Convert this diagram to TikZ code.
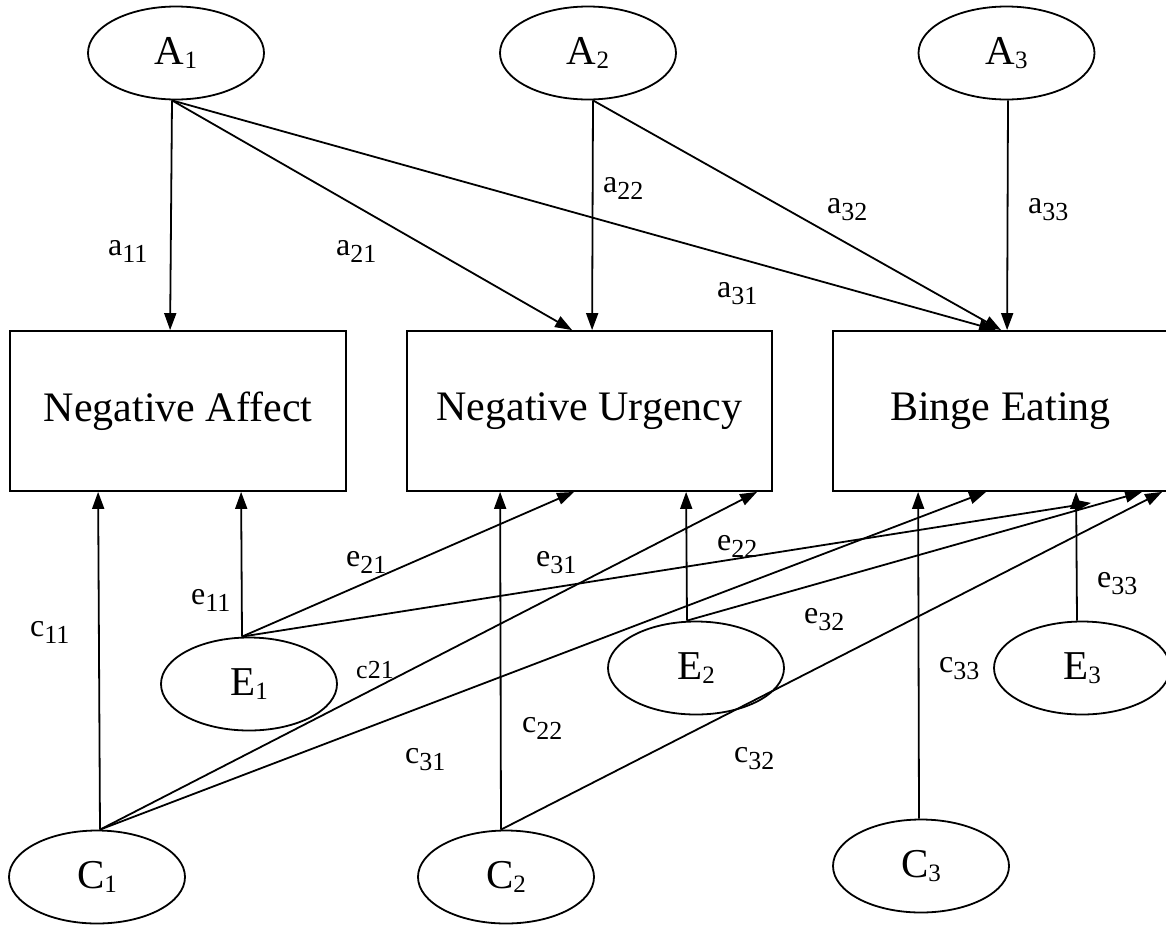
\documentclass[tikz,border=0pt]{standalone}
\usepackage{fontspec}
\setmainfont{Liberation Serif}
\usetikzlibrary{arrows.meta,shapes.geometric}
\newcommand\lbsub[2]{#1\raisebox{-7pt}{\fontsize{26}{26}\selectfont #2}}
\newcommand\vrsub[2]{#1\raisebox{-4pt}{\fontsize{25}{25}\selectfont #2}}
\begin{document}
\begin{tikzpicture}[x=1pt,y=-1pt,
  latent/.style={draw,ellipse,line width=1.8pt,minimum width=176pt,minimum height=93pt,inner sep=0pt,font=\fontsize{41}{44}\selectfont},
  obsbox/.style={draw,rectangle,line width=1.8pt,minimum height=160pt,inner sep=0pt,font=\fontsize{42}{48}\selectfont},
  path/.style={line width=1.8pt,-{Triangle[length=17pt,width=12pt]}},
  lab/.style={anchor=base west,inner sep=0pt,font=\fontsize{32}{36}\selectfont},
  labsm/.style={anchor=base west,inner sep=0pt,font=\fontsize{26}{30}\selectfont}]
\useasboundingbox (0,0) rectangle (1166,924);
% latent variables
\node[latent] (A1) at (176,53) {\vrsub{A}{1}};
\node[latent] (A2) at (588,53) {\vrsub{A}{2}};
\node[latent] (A3) at (1006.5,53) {\vrsub{A}{3}};
\node[latent] (E1) at (249,684) {\vrsub{E}{1}};
\node[latent] (E2) at (696,668) {\vrsub{E}{2}};
\node[latent] (E3) at (1082,668) {\vrsub{E}{3}};
\node[latent] (C1) at (97,877) {\vrsub{C}{1}};
\node[latent] (C2) at (506,877) {\vrsub{C}{2}};
\node[latent] (C3) at (921,866) {\vrsub{C}{3}};
% observed
\node[obsbox,minimum width=336pt] (NA) at (178,411) {Negative Affect};
\node[obsbox,minimum width=365pt] (NU) at (589.5,411) {Negative Urgency};
\node[obsbox,minimum width=335pt] (BE) at (1000.5,411) {Binge Eating};
% A paths
\draw[path] ([xshift=-4pt]A1.south) -- ([xshift=161pt]NA.north west);
\draw[path] ([xshift=-4pt]A1.south) -- ([xshift=166pt]NU.north west);
\draw[path] ([xshift=-4pt]A1.south) -- ([xshift=164pt]BE.north west);
\draw[path] ([xshift=5pt]A2.south) -- ([xshift=186pt]NU.north west);
\draw[path] ([xshift=5pt]A2.south) -- ([xshift=169pt]BE.north west);
\draw[path] ([xshift=1.5pt]A3.south) -- ([xshift=175pt]BE.north west);
% C and E paths
\draw[path] ([xshift=3pt]C1.north) -- ([xshift=89pt]NA.south west);
\draw[path] ([xshift=3pt]C1.north) -- ([xshift=351pt]NU.south west);
\draw[path] ([xshift=3pt]C1.north) -- ([xshift=154pt]BE.south west);
\draw[path] ([xshift=-7pt]E1.north) -- ([xshift=232pt]NA.south west);
\draw[path] ([xshift=-7pt]E1.north) -- ([xshift=168pt]NU.south west);
\draw[path] ([xshift=-7pt]E1.north) -- ([xshift=259pt,yshift=-11pt]BE.south west);
\draw[path] ([xshift=-5pt]C2.north) -- ([xshift=94pt]NU.south west);
\draw[path] ([xshift=-5pt]C2.north) -- ([xshift=330pt]BE.south west);
\draw[path] ([xshift=-9pt]E2.north) -- ([xshift=280pt]NU.south west);
\draw[path] ([xshift=-9pt]E2.north) -- ([xshift=310pt]BE.south west);
\draw[path] ([xshift=-2pt]C3.north) -- ([xshift=86pt]BE.south west);
\draw[path] ([xshift=-5pt]E3.north) -- ([xshift=244pt]BE.south west);
% labels
\node[lab] (la11) at (108,255) {\lbsub{a}{11}};
\node[lab] (la21) at (336,255) {\lbsub{a}{21}};
\node[lab] (la22) at (603,192) {\lbsub{a}{22}};
\node[lab] (la32) at (827,213) {\lbsub{a}{32}};
\node[lab] (la33) at (1028,213) {\lbsub{a}{33}};
\node[lab] (la31) at (717,297) {\lbsub{a}{31}};
\node[lab] (le21) at (346,566) {\lbsub{e}{21}};
\node[lab] (le31) at (536,566) {\lbsub{e}{31}};
\node[lab] (le11) at (191,604) {\lbsub{e}{11}};
\node[lab] (lc11) at (30,636) {\lbsub{c}{11}};
\node[labsm] (lc21) at (356,678) {c21};
\node[lab] (lc22) at (522,732) {\lbsub{c}{22}};
\node[lab] (lc31) at (405,763) {\lbsub{c}{31}};
\node[lab] (le22) at (717,550) {\lbsub{e}{22}};
\node[lab] (le32) at (804,623) {\lbsub{e}{32}};
\node[lab] (le33) at (1097,587) {\lbsub{e}{33}};
\node[lab] (lc33) at (939,672) {\lbsub{c}{33}};
\node[lab] (lc32) at (734,762) {\lbsub{c}{32}};
\end{tikzpicture}
\end{document}
